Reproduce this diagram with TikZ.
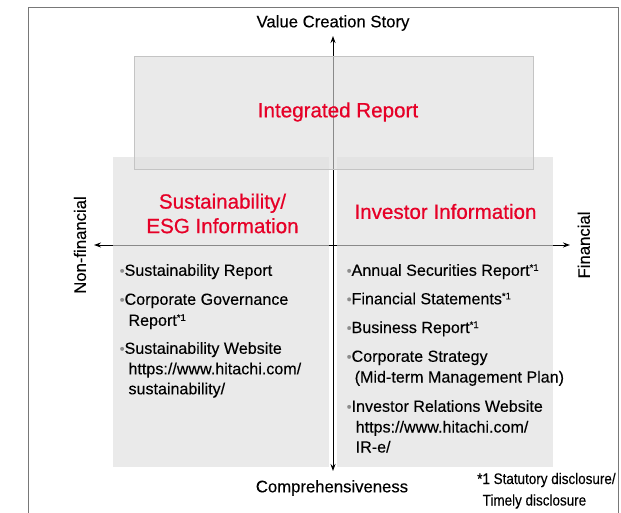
\documentclass[tikz,border=0pt]{standalone}
\usepackage{fontspec}
\setmainfont{Liberation Sans}[FakeBold=0.25]
\newfontfamily\titlefont{Liberation Sans}[FakeBold=0.6]
\newfontfamily\narrowfont{Liberation Sans}[FakeStretch=0.88, FakeBold=0.25]
\usetikzlibrary{arrows.meta}
\definecolor{hred}{RGB}{230,0,39}
\definecolor{boxfill}{rgb}{0.872,0.872,0.872}
\definecolor{boxline}{RGB}{196,196,196}
\definecolor{framec}{RGB}{120,120,120}
\definecolor{bulgray}{RGB}{140,140,140}
\newcommand{\bul}{{\color{bulgray}\fontsize{14}{14}\selectfont\raisebox{0.3pt}{•}}}
\newcommand{\fn}{\raisebox{5pt}{\fontsize{9.5}{9.5}\selectfont *1}}
\tikzset{
  panel/.style={fill=boxfill, fill opacity=0.625, draw=none},
  irpanel/.style={fill=boxfill, fill opacity=0.625, draw=boxline, draw opacity=1, line width=0.9pt},
  axis/.style={line width=0.9pt, {Stealth[length=7pt,width=5pt]}-{Stealth[length=7pt,width=5pt]}},
  axislabel/.style={inner sep=0pt, font=\fontsize{16.7}{20}\selectfont},
  title/.style={inner sep=0pt, text=hred, align=center, font=\titlefont\fontsize{20.6}{24.5}\selectfont},
  item/.style={inner sep=0pt, anchor=base west, font=\fontsize{16.1}{19}\selectfont},
  note/.style={inner sep=0pt, anchor=base west, font=\narrowfont\fontsize{15.3}{18}\selectfont}
}
\begin{document}
\begin{tikzpicture}[x=1pt,y=-1pt]
\useasboundingbox (0,0) rectangle (621,513);
% outer frame (open at the bottom)
\draw[framec, line width=1.1pt] (28.5,540) -- (28.5,7.5) -- (618.5,7.5) -- (618.5,540);

% axes
\coordinate (vtop) at (333,36);
\coordinate (vbot) at (333,471);
\coordinate (hl) at (94,245);
\coordinate (hr) at (570,245);
\draw[axis] (vbot) -- (vtop);
\draw[axis] (hl) -- (hr);

% panels
\path[panel] (113.3,156.7) rectangle (328.5,467);
\path[panel] (336.8,156.7) rectangle (553,467);
\path[irpanel] (134,56.5) rectangle (533,169.5);

% axis labels
\node[axislabel] (vcs) at (333,23) {Value Creation Story};
\node[axislabel] (comp) at (332,488) {Comprehensiveness};
\node[axislabel, rotate=90] (nonfin) at (80,245) {Non-financial};
\node[axislabel, rotate=90] (fin) at (583.8,245) {Financial};

% titles
\node[title] (ir) at (338,112) {Integrated Report};
\node[title] (esg) at (222.5,213.5) {Sustainability/\\ESG Information};
\node[title] (inv) at (445.5,211.5) {Investor Information};

% left column
\node[item] (l1) at (119.5,275.8) {\bul Sustainability Report};
\node[item] (l2) at (119.5,304.8) {\bul Corporate Governance};
\node[item] (l2b) at (128.3,325.8) {Report\fn};
\node[item] (l3) at (119.5,353.8) {\bul Sustainability Website};
\node[item] (l3b) at (128.3,374.3) {https://www.hitachi.com/};
\node[item] (l3c) at (128.3,394.3) {sustainability/};

% right column
\node[item] (r1) at (346.5,275.8) {\bul Annual Securities Report\fn};
\node[item] (r2) at (346.5,304.3) {\bul Financial Statements\fn};
\node[item] (r3) at (346.5,333) {\bul Business Report\fn};
\node[item] (r4) at (346.5,361.8) {\bul Corporate Strategy};
\node[item] (r4b) at (354.5,382.5) {(Mid-term Management Plan)};
\node[item] (r5) at (346.5,411.8) {\bul Investor Relations Website};
\node[item] (r5b) at (355.5,432.5) {https://www.hitachi.com/};
\node[item] (r5c) at (355.5,452.5) {IR-e/};

% footnote
\node[note] (n1) at (477,484) {*1 Statutory disclosure/};
\node[note] (n2) at (482.5,505.5) {Timely disclosure};
\end{tikzpicture}
\end{document}
